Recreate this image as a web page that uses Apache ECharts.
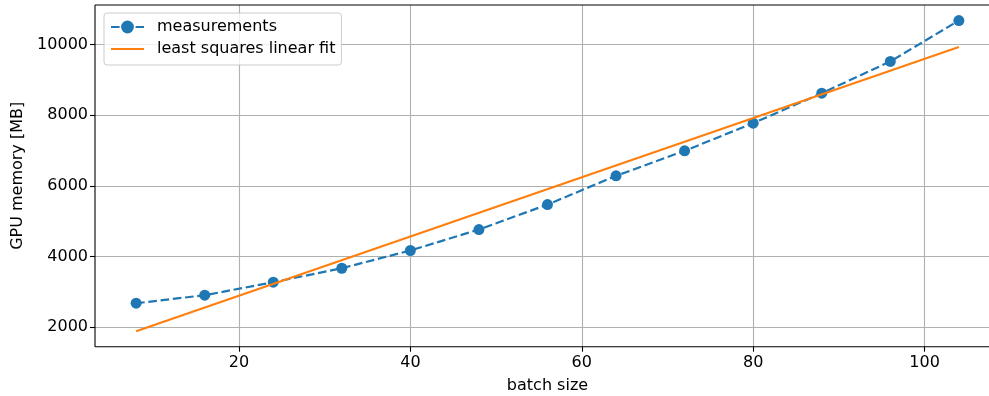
<!DOCTYPE html>
<html>
<head>
<meta charset="utf-8">
<script src="https://cdn.jsdelivr.net/npm/echarts@6/dist/echarts.min.js"></script>
<style>
html,body{margin:0;padding:0;background:#fff;}
#c{width:989px;height:396px;}
</style>
</head>
<body>
<div id="c"></div>
<script>
const batchSizes = [8, 16, 24, 32, 40, 48, 56, 64, 72, 80, 88, 96, 104];
const gpuMemory = [2678, 2904, 3272, 3668, 4170, 4763, 5470, 6283, 6990, 7774, 8622, 9520, 10678];
const fitX = [8, 104];
const fitY = [1887, 9927];
const xTicks = [20, 40, 60, 80, 100];
const yTicks = [2000, 4000, 6000, 8000, 10000];

const FONT = 'DejaVu Sans';
const FS = 16;
const X_MIN = 3.2, X_MAX = 108.8, Y_MIN = 1447.5, Y_MAX = 11117.5;
const chart = echarts.init(document.getElementById('c'), null, {renderer: 'canvas'});
chart.setOption({
  animation: false,
  backgroundColor: '#fff',
  textStyle: {fontFamily: FONT},
  grid: {left: 95, top: 5, width: 905, height: 341.7, show: false,
         containLabel: false, outerBoundsMode: 'none'},
  legend: {
    orient: 'vertical', left: 104, top: 13,
    padding: [6, 6, 8, 6], itemGap: 6, itemWidth: 33, itemHeight: 16,
    backgroundColor: 'rgba(255,255,255,0.8)', borderColor: '#cccccc', borderWidth: 1, borderRadius: 3,
    textStyle: {fontFamily: FONT, fontSize: FS, color: '#000', padding: [0, 0, 0, 8]},
    data: [
      {name: 'measurements'},
      {name: 'least squares linear fit', itemStyle: {opacity: 0}}
    ]
  },
  xAxis: {
    type: 'value', min: X_MIN, max: X_MAX,
    name: 'batch size', nameLocation: 'middle', nameGap: 31,
    nameTextStyle: {fontFamily: FONT, fontSize: FS, color: '#000'},
    axisLine: {show: false},
    axisTick: {show: true, length: 5, customValues: xTicks, lineStyle: {color: '#000', width: 1.1}},
    axisLabel: {customValues: xTicks, margin: 8, fontFamily: FONT, fontSize: FS, color: '#000',
                formatter: v => String(v)},
    splitLine: {show: true, lineStyle: {color: '#b0b0b0', width: 1.1}}
  },
  yAxis: {
    type: 'value', min: Y_MIN, max: Y_MAX,
    name: 'GPU memory [MB]', nameLocation: 'middle', nameGap: 68, nameRotate: 90,
    nameTextStyle: {fontFamily: FONT, fontSize: FS, color: '#000'},
    axisLine: {show: false},
    axisTick: {show: true, length: 5, customValues: yTicks, lineStyle: {color: '#000', width: 1.1}},
    axisLabel: {customValues: yTicks, margin: 7, fontFamily: FONT, fontSize: FS, color: '#000',
                formatter: v => String(v)},
    splitLine: {show: true, lineStyle: {color: '#b0b0b0', width: 1.1}}
  },
  series: [
    {
      name: 'measurements', type: 'line',
      data: batchSizes.map((x, i) => [x, gpuMemory[i]]),
      symbol: 'circle', symbolSize: 11, showSymbol: true,
      itemStyle: {color: '#1f77b4'},
      lineStyle: {color: '#1f77b4', width: 2.2, type: [8.6, 3.7]},
      z: 3
    },
    {
      name: 'least squares linear fit', type: 'line',
      data: fitX.map((x, i) => [x, fitY[i]]),
      symbol: 'none', showSymbol: false,
      itemStyle: {color: '#ff7f0e'},
      lineStyle: {color: '#ff7f0e', width: 2.2},
      z: 4
    }
  ]
});
// axes frame (spines) from the axis scales; right spine lies outside the visible area
const pBL = chart.convertToPixel({gridIndex: 0}, [X_MIN, Y_MIN]);
const pTR = chart.convertToPixel({gridIndex: 0}, [X_MAX, Y_MAX]);
const spine = {stroke: '#000', lineWidth: 1.1};
chart.setOption({
  graphic: [
    {type: 'line', z: 10, shape: {x1: pBL[0], y1: pBL[1], x2: 989, y2: pBL[1]}, style: spine},
    {type: 'line', z: 10, shape: {x1: pBL[0], y1: pBL[1], x2: pBL[0], y2: pTR[1]}, style: spine},
    {type: 'line', z: 10, shape: {x1: pBL[0], y1: pTR[1], x2: 989, y2: pTR[1]}, style: spine}
  ]
});
</script>
</body>
</html>
